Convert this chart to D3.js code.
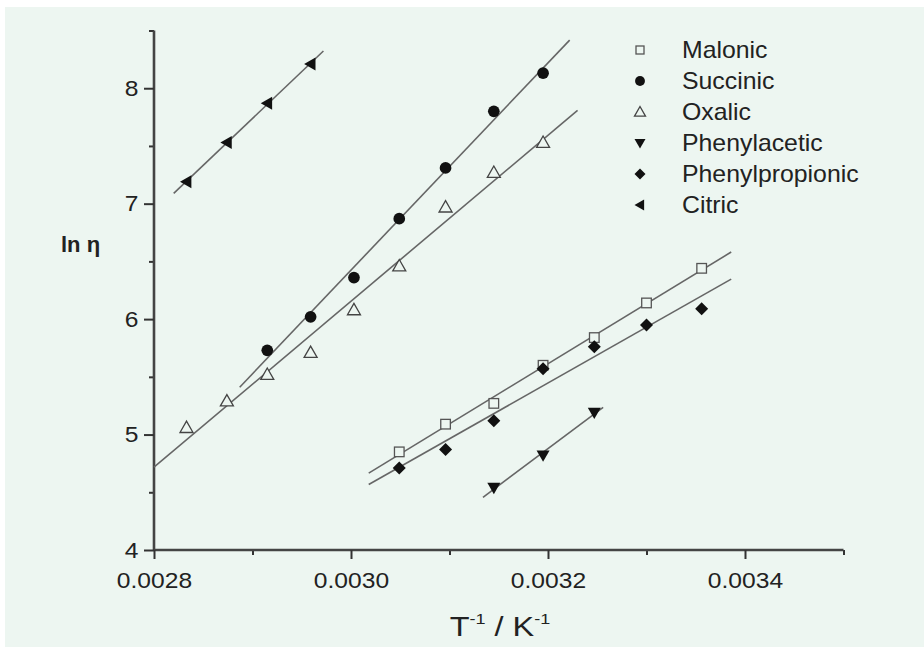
<!DOCTYPE html>
<html>
<head>
<meta charset="utf-8">
<script src="https://cdn.jsdelivr.net/npm/d3@7"></script>
<style>
  body { margin: 0; background: #fff; }
  svg text { font-family: "Liberation Sans", Arial, sans-serif; }
</style>
</head>
<body>
<svg id="chart" width="924" height="647"></svg>
<script>
// 1/T values (K^-1)
const invT = [0.002833, 0.002874, 0.002915, 0.002959, 0.003003, 0.003049,
              0.003096, 0.003145, 0.003195, 0.003247, 0.0033, 0.003356];

const seriesNames = ["Malonic", "Succinic", "Oxalic", "Phenylacetic", "Phenylpropionic", "Citric"];

// ln(eta) per series, with the index of the first 1/T value
const malonic = [4.85, 5.09, 5.27, 5.60, 5.84, 6.14, 6.44];         // from invT[5]
const succinic = [5.73, 6.02, 6.36, 6.87, 7.31, 7.80, 8.13];        // from invT[2]
const oxalic = [5.06, 5.29, 5.52, 5.71, 6.08, 6.46, 6.97, 7.27, 7.53]; // from invT[0]
const phenylacetic = [4.54, 4.82, 5.19];                            // from invT[7]
const phenylpropionic = [4.71, 4.87, 5.12, 5.57, 5.76, 5.95, 6.09]; // from invT[5]
const citric = [7.19, 7.53, 7.87, 8.21];                            // from invT[0]
const startIndex = [5, 2, 0, 7, 5, 0];

// x extent of each fitted line
const fitRange = [[0.003018, 0.003386], [0.002887, 0.003222], [0.0028, 0.00323],
                  [0.003134, 0.003256], [0.003018, 0.003386], [0.00282, 0.002972]];

const xTicks = [0.0028, 0.0030, 0.0032, 0.0034];
const yTicks = [4, 5, 6, 7, 8];

const values = [malonic, succinic, oxalic, phenylacetic, phenylpropionic, citric];
const series = seriesNames.map((name, i) => ({
  name,
  points: values[i].map((y, j) => ({ x: invT[startIndex[i] + j], y })),
  range: fitRange[i]
}));

const svg = d3.select("#chart");
const bg = "#edf6f1";
const stretch = 1.12; // the scanned figure is a bit wider than tall

svg.append("rect").attr("x", 5).attr("y", 7).attr("width", 919).attr("height", 640)
  .attr("fill", bg);

const x = d3.scaleLinear().domain([0.0028, 0.0035]).range([154, 843.5]);
const y = d3.scaleLinear().domain([4, 8.5]).range([550, 30.5]);

const axisColor = "#333";

// minor ticks
const xAxisMinor = d3.axisBottom(x).tickValues(d3.range(0.0029, 0.00351, 0.0002)).tickSize(5).tickFormat("");
const yAxisMinor = d3.axisLeft(y).tickValues([4.5, 5.5, 6.5, 7.5, 8.5]).tickSize(5).tickFormat("");

const gxm = svg.append("g").attr("transform", "translate(0,550)").call(xAxisMinor);
const gym = svg.append("g").attr("transform", "translate(154,0)").call(yAxisMinor);
[gxm, gym].forEach(g => {
  g.select(".domain").remove();
  g.selectAll("line").attr("stroke", axisColor).attr("stroke-width", 2);
});

const xAxis = d3.axisBottom(x).tickValues(xTicks).tickSize(9).tickPadding(13)
  .tickFormat(d3.format(".4f"));
const yAxis = d3.axisLeft(y).tickValues(yTicks).tickSize(10).tickPadding(4)
  .tickFormat(d3.format("d"));

const gx = svg.append("g").attr("transform", "translate(0,550)").call(xAxis);
const gy = svg.append("g").attr("transform", "translate(154,0)").call(yAxis);
[gx, gy].forEach(g => {
  g.select(".domain").attr("stroke", "#444").attr("stroke-width", 2.6);
  g.selectAll(".tick line").attr("stroke", axisColor).attr("stroke-width", 2);
  g.selectAll(".tick text").attr("fill", "#222").attr("font-size", 22)
    .attr("transform", `scale(${stretch},1)`);
});
gx.select(".domain").attr("d", `M${x(0.0028)},0H${x(0.0035)}`);
gy.select(".domain").attr("d", `M0,${y(8.5)}V${y(4)}`);

// axis titles
svg.append("text").attr("x", 61).attr("y", 252)
  .attr("font-size", 22).attr("font-weight", "bold").attr("fill", "#222")
  .text("ln η");

const xt = svg.append("text").attr("x", 500).attr("y", 636)
  .attr("text-anchor", "middle").attr("font-size", 27).attr("fill", "#222")
  .attr("transform", `translate(500,0) scale(1.2,1) translate(-500,0)`);
xt.append("tspan").text("T");
xt.append("tspan").attr("font-size", 15).attr("dy", -12).text("-1");
xt.append("tspan").attr("dy", 12).text(" / K");
xt.append("tspan").attr("font-size", 15).attr("dy", -12).text("-1");

// least-squares fit lines
function fit(points) {
  const mx = d3.mean(points, d => d.x), my = d3.mean(points, d => d.y);
  const sxy = d3.sum(points, d => (d.x - mx) * (d.y - my));
  const sxx = d3.sum(points, d => (d.x - mx) ** 2);
  const b = sxy / sxx;
  return v => my + b * (v - mx);
}

series.forEach(s => {
  const f = fit(s.points);
  svg.append("line")
    .attr("x1", x(s.range[0])).attr("y1", y(f(s.range[0])))
    .attr("x2", x(s.range[1])).attr("y2", y(f(s.range[1])))
    .attr("stroke", "#666").attr("stroke-width", 1.6);
});

// markers
const ink = "#111";
function marker(g, name, size) {
  const r = size / 2;
  if (name === "Malonic") {
    g.append("rect").attr("x", -r * 0.8).attr("y", -r * 0.8).attr("width", size * 0.8).attr("height", size * 0.8)
      .attr("fill", bg).attr("stroke", "#555").attr("stroke-width", 1.3);
  } else if (name === "Succinic") {
    g.append("circle").attr("r", r * 0.9).attr("fill", ink);
  } else if (name === "Oxalic") {
    g.append("path").attr("d", `M0,${-r}L${r},${r * 0.75}L${-r},${r * 0.75}Z`)
      .attr("fill", bg).attr("stroke", "#444").attr("stroke-width", 1.3);
  } else if (name === "Phenylacetic") {
    g.append("path").attr("d", `M${-r},${-r * 0.75}L${r},${-r * 0.75}L0,${r}Z`).attr("fill", ink);
  } else if (name === "Phenylpropionic") {
    g.append("path").attr("d", `M0,${-r}L${r},0L0,${r}L${-r},0Z`).attr("fill", ink);
  } else if (name === "Citric") {
    g.append("path").attr("d", `M${-r},0L${r * 0.75},${-r}L${r * 0.75},${r}Z`).attr("fill", ink);
  }
}

series.forEach(s => {
  svg.append("g").selectAll("g").data(s.points).join("g")
    .attr("transform", d => `translate(${x(d.x)},${y(d.y)})`)
    .each(function () { marker(d3.select(this), s.name, s.name === "Malonic" ? 12 : 13); });
});

// legend
const legend = svg.append("g");
seriesNames.forEach((name, i) => {
  const cy = 50 + i * 31;
  const g = legend.append("g").attr("transform", `translate(640,${cy})`);
  marker(g, name, name === "Malonic" ? 10 : 11);
  legend.append("text").attr("x", 682).attr("y", cy + 8)
    .attr("font-size", 23).attr("fill", "#222")
    .attr("transform", `translate(682,0) scale(1.08,1) translate(-682,0)`)
    .text(name);
});
</script>
</body>
</html>
